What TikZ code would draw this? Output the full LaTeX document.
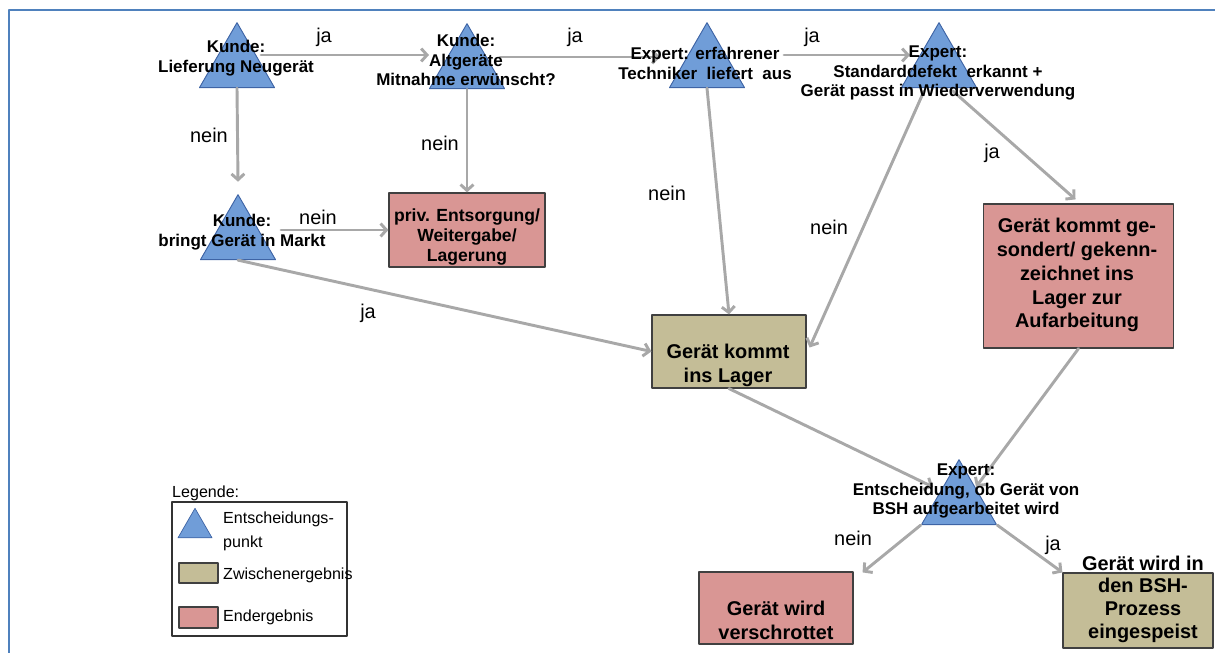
\documentclass[tikz,border=0pt]{standalone}
\usepackage{fontspec}
\setmainfont{Liberation Sans}
\usetikzlibrary{arrows.meta,positioning,calc,shapes.geometric}

\definecolor{decblue}{RGB}{112,157,216}
\definecolor{decedge}{RGB}{62,100,165}
\definecolor{endred}{RGB}{217,150,148}
\definecolor{midkhaki}{RGB}{196,189,151}
\definecolor{conngray}{RGB}{168,168,168}
\definecolor{frameblue}{RGB}{79,129,189}

\begin{document}
\begin{tikzpicture}[
  x=0.03cm,
  y=-0.03cm,
  line cap=round,
  line join=round,
  decision/.style={regular polygon, regular polygon sides=3,
    minimum size=2.6cm, inner sep=0pt, fill=decblue, draw=decedge,
    line width=0.8pt},
  endbox/.style={rectangle, fill=endred, draw=black!75,
    line width=1pt, inner sep=0pt},
  midbox/.style={rectangle, fill=midkhaki, draw=black!75,
    line width=1pt, inner sep=0pt},
  dectext/.style={align=center, inner sep=0pt,
    font=\bfseries\fontsize{14.5}{17}\selectfont},
  boxtext/.style={align=center, inner sep=0pt,
    font=\bfseries\fontsize{17}{20.4}\selectfont},
  edgelbl/.style={inner sep=0pt, font=\fontsize{17}{20}\selectfont},
  legtext/.style={inner sep=0pt, align=left,
    font=\fontsize{13.7}{20.4}\selectfont},
  conn/.style={draw=conngray, line width=2.5pt,
    -{Straight Barb[length=5pt,width=11pt]}}
]

\useasboundingbox (0,0) rectangle (1215,653);

% Frame
\draw[frameblue, line width=1.8pt] (9,653) -- (9,10) -- (1215,10);

% Decision points
\node[decision] (kunde1) at (237,66) {};
\node[decision] (kunde2) at (467,67) {};
\node[decision] (expert1) at (707,66) {};
\node[decision] (expert2) at (939,66) {};
\node[decision] (kunde3) at (238,238) {};
\node[decision] (expert3) at (959,503) {};

% Results
\node[endbox, minimum width=4.68cm, minimum height=2.22cm]
  (entsorgung) at (467,230) {};
\node[midbox, minimum width=4.62cm, minimum height=2.19cm]
  (lager) at (729,351.5) {};
\node[endbox, minimum width=5.7cm, minimum height=4.32cm]
  (gesondert) at (1078.5,276) {};
\node[endbox, minimum width=4.62cm, minimum height=2.16cm]
  (schrott) at (776,608) {};
\node[midbox, minimum width=4.5cm, minimum height=2.25cm]
  (bsh) at (1138,610.5) {};

% Connectors
\draw[conn] ([shift={(24,-11)}]kunde1.center)
  -- ([shift={(-38,-12)}]kunde2.center);
\draw[conn] ([shift={(33,-10)}]kunde2.center)
  -- ([shift={(-47,-9)}]expert1.center);
\draw[conn] ([shift={(77,-11)}]expert1.center)
  -- ([shift={(-29,-11)}]expert2.center);
\draw[conn] (kunde1.south) -- ([shift={(0,-12)}]kunde3.north);
\draw[conn] (kunde2.south) -- (kunde2.south |- entsorgung.north);
\draw[conn] ([shift={(43,-8)}]kunde3.center) -- (entsorgung.west);
\draw[conn] (kunde3.south) -- (lager.west);
\draw[conn] (expert1.south) -- (lager.north);
\draw[conn] ([shift={(-15,3)}]expert2.south)
  -- ([shift={(3,-4)}]lager.east);
\draw[conn] ([shift={(14,3)}]expert2.south)
  -- ([shift={(-3,-4)}]gesondert.north);
\draw[conn] (lager.south) -- ([shift={(-26,-16)}]expert3.center);
\draw[conn] (gesondert.south) -- ([shift={(17,-16)}]expert3.center);
\draw[conn] (expert3.corner 2) -- ([shift={(9,1)}]schrott.north east);
\draw[conn] (expert3.corner 3) -- (bsh.north west);

% Texts of the decision points
\node[dectext] (kunde1txt) at (236,58) {Kunde:\\Lieferung Neugerät};
\node[dectext] (kunde2txt) at (466,60)
  {Kunde:\\Altgeräte\\Mitnahme erwünscht?};
\node[dectext] (expert1txt) at (705,63)
  {Expert: erfahrener\\Techniker~~liefert~~aus};
\node[dectext] (expert2txt) at (938,73)
  {Expert:\\Standarddefekt~~erkannt +\\Gerät passt in Wiederverwendung};
\node[dectext] (kunde3txt) at (242,232) {Kunde:\\bringt Gerät in Markt};
\node[dectext] (expert3txt) at (966,491)
  {Expert:\\Entscheidung, ob Gerät von\\BSH aufgearbeitet wird};

% Texts of the results
\node[boxtext, font=\bfseries\fontsize{15}{17.4}\selectfont]
  (entsorgungtxt) at (467,237) {priv. Entsorgung/\\Weitergabe/\\Lagerung};
\node[boxtext] (lagertxt) at (728,365) {Gerät kommt\\ins Lager};
\node[boxtext] (gesonderttxt) at (1077,275)
  {Gerät kommt ge-\\sondert/ gekenn-\\zeichnet ins\\Lager zur\\Aufarbeitung};
\node[boxtext] (schrotttxt) at (776,620) {Gerät wird\\verschrottet};
\node[boxtext, font=\bfseries\fontsize{17}{19.3}\selectfont]
  (bshtxt) at (1143,599) {Gerät wird in\\den BSH-\\Prozess\\eingespeist};

% Edge labels
\node[edgelbl] (ja1) at (324,37) {ja};
\node[edgelbl] (ja2) at (575,37) {ja};
\node[edgelbl] (ja3) at (812,37) {ja};
\node[edgelbl] (nein1) at (209,135) {nein};
\node[edgelbl] (nein2) at (440,143) {nein};
\node[edgelbl] (nein3) at (318,217) {nein};
\node[edgelbl] (ja4) at (368,313) {ja};
\node[edgelbl] (nein4) at (667,193) {nein};
\node[edgelbl] (nein5) at (829,227) {nein};
\node[edgelbl] (ja5) at (992,153) {ja};
\node[edgelbl] (nein6) at (853,538) {nein};
\node[edgelbl] (ja6) at (1053,545) {ja};

% Legend
\node[legtext, anchor=west] (legtitle) at (172,493) {Legende:};
\node[draw=black!80, line width=1pt, minimum width=5.25cm,
  minimum height=4.02cm, inner sep=0pt] (legbox) at (259.5,569) {};
\node[decision, minimum size=1.18cm, line width=0.6pt]
  (legdec) at (195,528) {};
\node[midbox, minimum width=1.17cm, minimum height=0.6cm]
  (legmid) at (198.5,573) {};
\node[endbox, minimum width=1.17cm, minimum height=0.63cm]
  (legred) at (198.5,617.5) {};
\node[legtext, anchor=west] (legdectxt) at (223,531)
  {Entscheidungs-\\punkt};
\node[legtext, anchor=west] (legmidtxt) at (223,575) {Zwischenergebnis};
\node[legtext, anchor=west] (legredtxt) at (223,617) {Endergebnis};

\end{tikzpicture}
\end{document}
